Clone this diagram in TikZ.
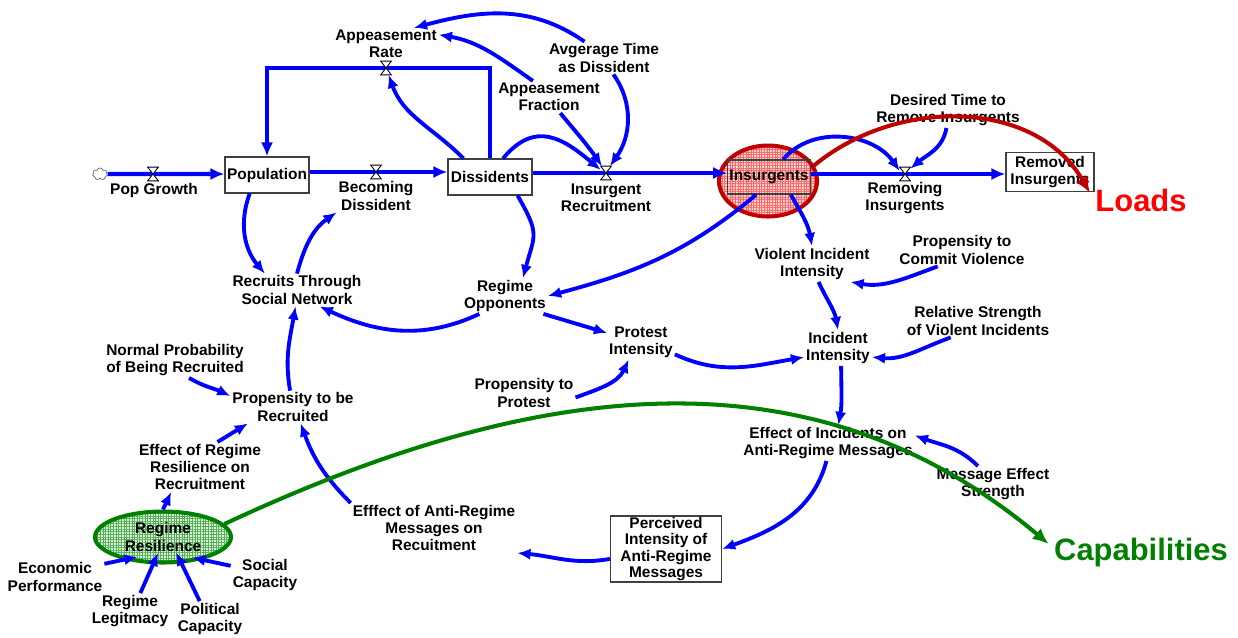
\documentclass[tikz,border=0pt]{standalone}
\usepackage{fontspec}
\setmainfont{Liberation Sans}
\usetikzlibrary{arrows.meta,shapes.geometric,shapes.symbols,patterns.meta}
\definecolor{dred}{RGB}{192,0,0}
\definecolor{dgreen}{RGB}{0,128,0}
\tikzset{
  lbl/.style={font=\bfseries\fontsize{8.8}{9.8}\selectfont, align=center, inner sep=1pt},
  stock/.style={lbl, draw=black!75, line width=0.7pt, minimum width=1.68cm, minimum height=0.72cm},
  valve/.style={inner sep=0pt, minimum width=0.2cm, minimum height=0.26cm},
  pipe/.style={blue, line width=2.4pt, line join=miter, -{Latex[length=8pt,width=7pt]}},
  link/.style={blue, line width=2.2pt, -{Latex[length=7.5pt,width=6.4pt]}},
  tag/.style={font=\bfseries\fontsize{17.6}{20}\selectfont, inner sep=3pt, anchor=base},
  loadarrow/.style={line width=2.3pt, -{Latex[length=9pt,width=8pt]}}
}
\begin{document}
\begin{tikzpicture}[x=0.02cm, y=0.02cm]
    \useasboundingbox (0,0) rectangle (1238,-637);
    \node[ellipse, draw=dred, line width=2.3pt, minimum width=1.96cm, minimum height=1.42cm,
      preaction={fill=red!16}, pattern={Hatch[angle=0,distance=1.5pt,line width=0.3pt]},
      pattern color=red!60] (insell) at (768,-181) {};
    \node[stock] (pop) at (267,-175) {Population};
    \node[stock] (dis) at (490,-177) {Dissidents};
    \node[stock, minimum width=1.64cm, minimum height=0.68cm] (ins) at (769,-177) {Insurgents};
    \node[stock, minimum width=1.76cm, minimum height=0.78cm] (remd) at (1050,-172) {Removed\\Insurgents};
    \node[stock, font=\bfseries\fontsize{8.8}{9.2}\selectfont, inner sep=0.5pt, minimum width=2.22cm,
      minimum height=1.32cm] (perc) at (666,-549) {Perceived\\Intensity of\\Anti-Regime\\Messages};
    \node[cloud, cloud puffs=7, draw=black!60, line width=0.4pt, minimum width=0.3cm,
      minimum height=0.24cm, inner sep=0pt] (cloud) at (100,-174) {};

    \node[valve] (vpop) at (153,-174) {};
    \node[valve] (vbec) at (376,-172) {};
    \node[valve] (vapp) at (386,-68) {};
    \node[valve] (vrec) at (606,-173) {};
    \node[valve] (vrem) at (905,-174) {};

    \draw[pipe] (cloud.east) -- (pop.west |- vpop);
    \draw[pipe] (pop.east |- vbec) -- (dis.west |- vbec);
    \draw[pipe] (dis.east |- vrec) -- (ins.west |- vrec);
    \draw[pipe] (ins.east |- vrem) -- (remd.west |- vrem);
    \draw[pipe] (dis.north) -- (dis.north |- vapp) -- (pop.north |- vapp) -- (pop.north);
    \foreach \v in {vpop,vbec,vapp,vrec,vrem}
      \draw[fill=white, line width=0.5pt] (\v.north west) -- (\v.north east)
        -- (\v.south west) -- (\v.south east) -- cycle;

    \node[lbl] (lpop) at (154,-190) {Pop Growth};
    \node[lbl] (lbec) at (376,-196) {Becoming\\Dissident};
    \node[lbl] (lapp) at (386,-44) {Appeasement\\Rate};
    \node[lbl] (lrec) at (606,-198) {Insurgent\\Recruitment};
    \node[lbl] (lrem) at (905,-198) {Removing\\Insurgents};
    \node[lbl] (afrac) at (549,-97) {Appeasement\\Fraction};
    \node[lbl] (avgt) at (604,-58) {Avgerage Time\\as Dissident};
    \node[lbl] (dtrem) at (948,-110) {Desired Time to\\Remove Insurgents};
    \node[lbl] (vii) at (812,-264) {Violent Incident\\Intensity};
    \node[lbl] (pcv) at (962,-250) {Propensity to\\Commit Violence};
    \node[lbl] (ropp) at (505,-296) {Regime\\Opponents};
    \node[lbl] (rec) at (297,-290) {Recruits Through\\Social Network};
    \node[lbl] (pint) at (641,-342) {Protest\\Intensity};
    \node[lbl] (iint) at (838,-348) {Incident\\Intensity};
    \node[lbl] (rsvi) at (978,-321) {Relative Strength\\of Violent Incidents};
    \node[lbl] (pprot) at (524,-393) {Propensity to\\Protest};
    \node[lbl] (nprob) at (175,-360) {Normal Probability\\of Being Recruited};
    \node[lbl] (precr) at (293,-407) {Propensity to be\\Recruited};
    \node[lbl] (errr) at (200,-467) {Effect of Regime\\Resilience on\\Recruitment};
    \node[lbl] (econ) at (55,-577) {Economic\\Performance};
    \node[lbl] (legit) at (130,-611) {Regime\\Legitmacy};
    \node[lbl] (polc) at (210,-619) {Political\\Capacity};
    \node[lbl] (socc) at (265,-575) {Social\\Capacity};
    \node[lbl] (eamr) at (434,-528) {Efffect of Anti-Regime\\Messages on\\Recuitment};
    \node[lbl] (eiam) at (828,-443) {Effect of Incidents on\\Anti-Regime Messages};
    \node[lbl] (mes) at (993,-484) {Message Effect\\Strength};
    \node[lbl, ellipse, draw=dgreen, line width=2.3pt, minimum width=2.72cm, minimum height=1.02cm,
      inner sep=0pt, preaction={fill=green!14}, pattern={Hatch[angle=0,distance=1.5pt,line width=0.3pt]},
      pattern color=dgreen!65] (rres) at (163,-537) {Regime\\Resilience};
    \node[tag, text=red] (loads) at (1141,-211) {Loads};
    \node[tag, text=dgreen] (capab) at (1141,-560) {Capabilities};

    \draw[link] (dis.145) to[out=135, in=-70] (vapp.-70);
    \draw[link] (afrac.135) to[out=145, in=-10] (lapp.10);
    \draw[link] (avgt.140) to[out=145, in=15] (lapp.30);
    \draw[link] (avgt.-60) to[out=-55, in=55] (vrec.60);
    \draw[link] (afrac.-55) to[out=-50, in=125] (vrec.120);
    \draw[link] (dis.55) to[out=50, in=140, looseness=1.3] (vrec.150);
    \draw[link] (ins.51) to[out=50, in=125] (vrem.150);
    \draw[link] (dtrem.-95) to[out=-100, in=40] (vrem.45);

    \draw[link] (pop.227) to[out=250, in=130] (rec.153);
    \draw[link] (rec.north) to[out=75, in=215] (lbec.south west);
    \draw[link] (dis.-34) to[out=-60, in=75, looseness=1.4] (ropp.45);
    \draw[link] (ropp.215) to[out=205, in=-25] (rec.-36);
    \draw[link] (ins.234) to[out=220, in=15] (ropp.east);
    \draw[link] (ins.-39) to[out=-60, in=100] (vii.north);
    \draw[link] (pcv.214) to[out=200, in=-10] (vii.-25);
    \draw[link] (vii.-70) to[out=-65, in=100] (iint.north);
    \draw[link] (rsvi.211) to[out=200, in=-5] (iint.-15);
    \draw[link] (ropp.-25) -- (pint.165);
    \draw[link] (pprot.-5) to[out=20, in=245] (pint.235);
    \draw[link] (pint.-20) to[out=-25, in=190] (iint.195);
    \draw[link] (iint.-80) to[out=-90, in=80] (eiam.60);
    \draw[link] (mes.130) to[out=135, in=-20] (eiam.5);
    \draw[link] (eiam.-95) to[out=-105, in=20] (perc.east);
    \draw[link] (perc.190) to[out=190, in=-5] (eamr.south east);
    \draw[link] (eamr.north west) to[out=135, in=-70] (precr.-65);
    \draw[link] (precr.100) to[out=100, in=260] (rec.-95);
    \draw[link] (nprob.-52) to[out=-30, in=155] (precr.170);
    \draw[link] (errr.55) -- (precr.200);
    \draw[link] (rres.north) -- (errr.221);
    \draw[link, shorten >=-8pt] (econ.15) -- (rres.210);
    \draw[link, shorten >=-7pt] (legit.60) -- (rres.250);
    \draw[link, shorten >=-7pt] (polc.120) -- (rres.-55);
    \draw[link, shorten >=-6pt] (socc.165) -- (rres.-30);

    \draw[loadarrow, dred] (insell.18) to[out=40, in=120] (loads.172);
    \draw[loadarrow, dgreen] (rres.12) to[out=25, in=140] (capab.175);
  \end{tikzpicture}
\end{document}
